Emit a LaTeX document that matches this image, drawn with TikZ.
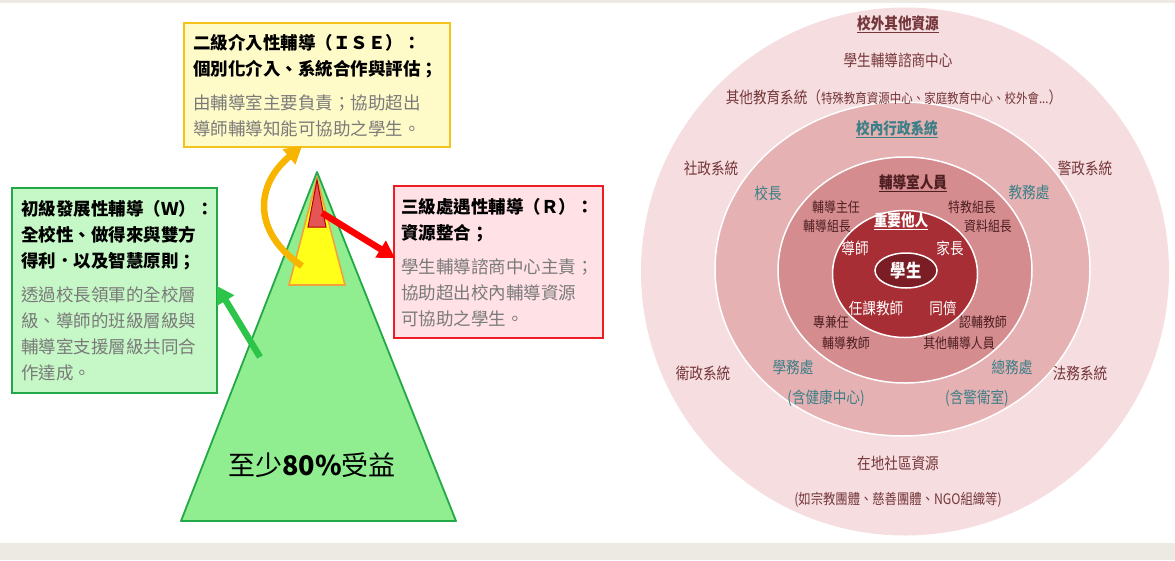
\documentclass[tikz,border=0pt]{standalone}
\usepackage{fontspec}
\setmainfont{Noto Sans CJK TC}
\newfontfamily\ringfont[FakeStretch=0.85]{Noto Sans CJK TC}
\usetikzlibrary{arrows.meta,shapes.geometric}

\definecolor{pagebeige}{HTML}{EDEAE3}
\definecolor{ylwfill}{HTML}{FFFBC8}
\definecolor{ylwline}{HTML}{F5C21B}
\definecolor{grnfill}{HTML}{C6F7C6}
\definecolor{grnline}{HTML}{23A847}
\definecolor{redfill}{HTML}{FFE1E6}
\definecolor{redline}{HTML}{EE1C25}
\definecolor{bodygrey}{HTML}{7A7A7A}
\definecolor{pyrgreen}{HTML}{90EE90}
\definecolor{pyryellow}{HTML}{FFFF1A}
\definecolor{pyrorange}{HTML}{F2A23A}
\definecolor{pyrred}{HTML}{E55555}
\definecolor{arrorange}{HTML}{F7B500}
\definecolor{arrgreen}{HTML}{2DC44A}
\definecolor{ringout}{HTML}{F6DDDF}
\definecolor{ringadm}{HTML}{E6B1B3}
\definecolor{ringstaff}{HTML}{D58C8E}
\definecolor{ringkey}{HTML}{A62E34}
\definecolor{ringstu}{HTML}{7A1D24}
\definecolor{txtout}{HTML}{74363A}
\definecolor{txtadm}{HTML}{3B7F87}
\definecolor{txtstaff}{HTML}{4E1E22}

\begin{document}
\begin{tikzpicture}[x=1pt,y=-1pt,
    infobox/.style={anchor=north west, line width=2.4pt, inner xsep=9pt, inner ysep=0pt, align=left,
      font=\fontsize{17.5}{26}\selectfont},
    fatarrow/.style={line width=6.5pt, -{Triangle[length=17pt,width=19pt]}},
    outerlbl/.style={text=txtout, font=\ringfont\fontsize{16}{18}\selectfont, inner sep=0pt},
    admlbl/.style={text=txtadm, font=\ringfont\fontsize{16}{18}\selectfont, inner sep=0pt},
    stafflbl/.style={text=txtstaff, font=\ringfont\fontsize{14}{16}\selectfont, inner sep=0pt},
    keylbl/.style={text=white, font=\ringfont\fontsize{16}{18}\selectfont, inner sep=0pt}]
\useasboundingbox (0,0) rectangle (1175,560);
\fill[pagebeige] (0,0) rectangle (1175,3);
\fill[pagebeige] (0,543) rectangle (1175,560);

% pyramid
\filldraw[fill=pyrgreen, draw=grnline, line width=1.8pt, line join=round] (317,172) -- (181,521) -- (456,521) -- cycle;
\filldraw[fill=pyryellow, draw=pyrorange, line width=1.6pt] (317,178) -- (289,285) -- (345,285) -- cycle;
\filldraw[fill=pyrred, draw=red!70!black, line width=1pt] (317,180) -- (308,227) -- (326,227) -- cycle;
\node[font=\fontsize{27}{30}\selectfont, inner sep=0pt] (benefit) at (312,465) {至少\textbf{80\%}受益};

% boxes
\node[infobox, fill=ylwfill, draw=ylwline, text width=248pt, minimum height=124pt] (ise) at (183,22)
  {\bfseries 二級介入性輔導（ＩＳＥ）：\\個別化介入、系統合作與評估；\\[8pt]\mdseries\color{bodygrey}由輔導室主要負責；協助超出\\導師輔導知能可協助之學生。};
\node[infobox, fill=grnfill, draw=grnline, text width=187pt, minimum height=205pt] (w) at (11,187)
  {\bfseries 初級發展性輔導（Ｗ）：\\全校性、做得來與雙方\\得利．以及智慧原則；\\[8pt]\mdseries\color{bodygrey}透過校長領軍的全校層\\級、導師的班級層級與\\輔導室支援層級共同合\\作達成。};
\node[infobox, inner xsep=7pt, fill=redfill, draw=redline, text width=195pt, minimum height=152pt] (r) at (393,185)
  {\bfseries 三級處遇性輔導（Ｒ）：\\資源整合；\\[5pt]\mdseries\color{bodygrey}\kern3pt學生輔導諮商中心主責；\\協助超出校內輔導資源\\可協助之學生。};

% arrows
\coordinate (ylwtip) at (302,266);
\coordinate (isein) at (302,146);
\coordinate (grntip) at (260,357);
\coordinate (win) at (217,286);
\coordinate (redtip) at (322,213);
\coordinate (rin) at (395,258);
\draw[fatarrow, arrorange] (ylwtip) .. controls (252,232) and (255,185) .. (isein);
\draw[fatarrow, arrgreen] (grntip) -- (win);
\draw[fatarrow, red] (redtip) -- (rin);

% rings
\fill[ringout] (905,271.5) ellipse [x radius=264, y radius=264];
\filldraw[fill=ringadm, draw=white, line width=1.5pt] (902.5,269) ellipse [x radius=187.5, y radius=167];
\filldraw[fill=ringstaff, draw=white, line width=1.5pt] (905,270) ellipse [x radius=127, y radius=113];
\filldraw[fill=ringkey, draw=white, line width=1.5pt] (905,274) ellipse [x radius=72.5, y radius=63.5];
\node[ellipse, fill=ringstu, draw=white, line width=1.5pt, minimum width=62pt, minimum height=35pt, inner sep=0pt,
  text=white, font=\ringfont\fontsize{18}{20}\selectfont\bfseries] (student) at (906,270.5) {學生};

% outer ring
\node[outerlbl, font=\ringfont\fontsize{16}{18}\selectfont\bfseries] (outside) at (898,24) {\underline{校外其他資源}};
\node[outerlbl] (counsel) at (898,60) {學生輔導諮商中心};
\node[outerlbl] (othedu) at (894,97) {其他教育系統（{\fontsize{13.5}{16}\selectfont 特殊教育資源中心、家庭教育中心、校外會...}）};
\node[outerlbl] (social) at (711,168) {社政系統};
\node[outerlbl] (police) at (1085,168) {警政系統};
\node[outerlbl] (health) at (703,373) {衛政系統};
\node[outerlbl] (justice) at (1080,373) {法務系統};
\node[outerlbl] (local) at (898,463) {在地社區資源};
\node[outerlbl, font=\ringfont\fontsize{14.5}{17}\selectfont] (localeg) at (898,500) {(如宗教團體、慈善團體、NGO組織等)};

% admin ring
\node[admlbl, font=\ringfont\fontsize{16}{18}\selectfont\bfseries] (admin) at (897,129) {\underline{校內行政系統}};
\node[admlbl] (principal) at (768,193) {校長};
\node[admlbl] (academic) at (1029,192) {教務處};
\node[admlbl] (studaff) at (793,367) {學務處};
\node[admlbl] (studaffsub) at (826,398) {(含健康中心)};
\node[admlbl] (general) at (1012,367) {總務處};
\node[admlbl] (generalsub) at (977,398) {(含警衛室)};

% staff ring
\node[stafflbl, font=\ringfont\fontsize{16}{18}\selectfont\bfseries] (staff) at (913,183) {\underline{輔導室人員}};
\node[stafflbl] (director) at (836,207) {輔導主任};
\node[stafflbl] (chief) at (827,226) {輔導組長};
\node[stafflbl] (special) at (972,207) {特教組長};
\node[stafflbl] (data) at (988,226) {資料組長};
\node[stafflbl] (parttime) at (831,322) {專兼任};
\node[stafflbl] (coteach) at (846,343) {輔導教師};
\node[stafflbl] (mentor) at (983,322) {認輔教師};
\node[stafflbl] (otherstaff) at (959,343) {其他輔導人員};

% key persons
\node[keylbl, font=\ringfont\fontsize{16}{18}\selectfont\bfseries] (key) at (901,221) {\underline{重要他人}};
\node[keylbl] (tutor) at (855,248) {導師};
\node[keylbl] (parent) at (950,248) {家長};
\node[keylbl] (subject) at (876,308) {任課教師};
\node[keylbl] (peer) at (943,308) {同儕};
\end{tikzpicture}
\end{document}
